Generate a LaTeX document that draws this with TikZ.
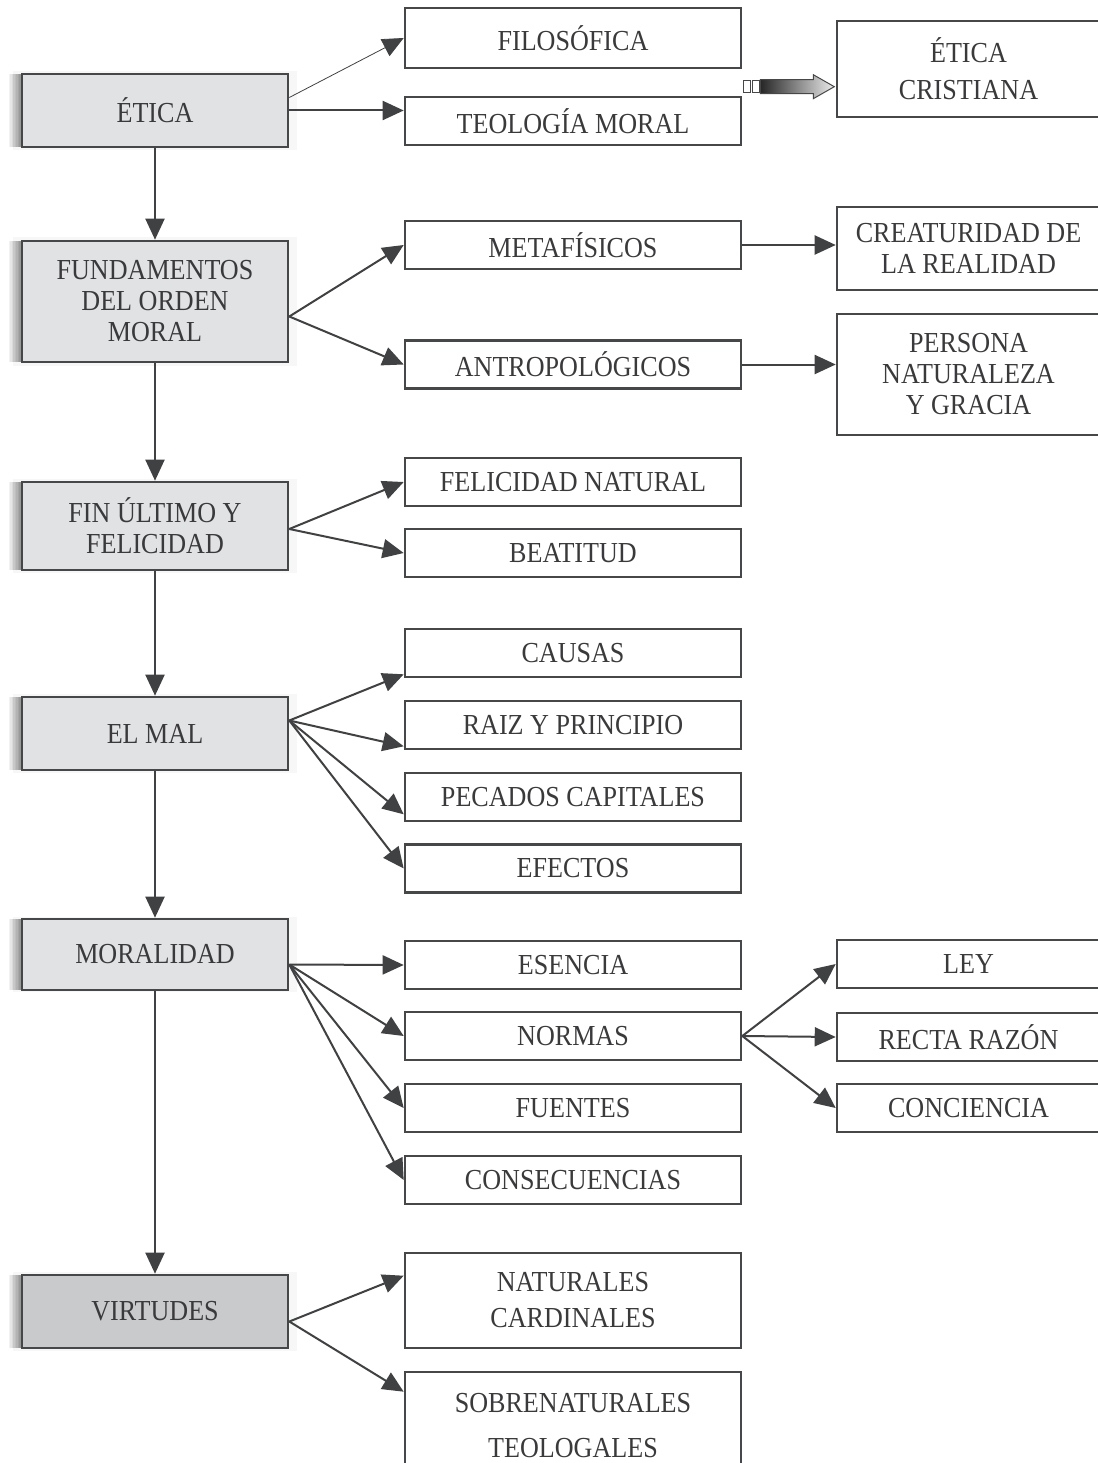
\documentclass[tikz,border=0pt]{standalone}
\usepackage{fontspec}
\setmainfont{Liberation Serif}[FakeStretch=0.9]
\usetikzlibrary{arrows.meta,shadows,calc}

\definecolor{linegray}{RGB}{64,65,67}
\definecolor{boxline}{RGB}{70,71,73}
\definecolor{boxfill}{RGB}{225,226,228}
\definecolor{boxfilldark}{RGB}{201,202,204}
\definecolor{textgray}{RGB}{58,58,60}

\tikzset{
	basebox/.style={draw=boxline, line width=2.6pt, fill=white, text=textgray, align=center, inner sep=0pt, font=\fontsize{29}{31}\selectfont},
	shadowed/.style={
		general shadow={fill=black, opacity=.03, shadow scale=1.07},
		general shadow={fill=black, opacity=.05, shadow xshift=-13.5pt},
		general shadow={fill=black, opacity=.05, shadow xshift=-12pt},
		general shadow={fill=black, opacity=.05, shadow xshift=-10.5pt},
		general shadow={fill=black, opacity=.05, shadow xshift=-9pt},
		general shadow={fill=black, opacity=.05, shadow xshift=-7.5pt},
		general shadow={fill=black, opacity=.06, shadow xshift=-6pt},
		general shadow={fill=black, opacity=.07, shadow xshift=-4.5pt},
		general shadow={fill=black, opacity=.08, shadow xshift=-3pt},
		general shadow={fill=black, opacity=.10, shadow xshift=-1.5pt}},
	mainbox/.style={basebox, shadowed, fill=boxfill, minimum width=266pt},
	subbox/.style={basebox, minimum width=336pt},
	farbox/.style={basebox, minimum width=263pt},
	conn/.style={draw=linegray, line width=2pt, -{Triangle[length=21pt,width=19pt]}},
}

\begin{document}
\begin{tikzpicture}[x=1pt,y=-1pt]
			%%%%% START %%%%%
			\useasboundingbox (0,0) rectangle (1097,1463);
			
			% left column
			\node[mainbox, minimum height=73pt] (etica) at (155,110.5) {ÉTICA};
			\node[mainbox, minimum height=121pt] (fund) at (155,301.5) {FUNDAMENTOS\\DEL ORDEN\\MORAL};
			\node[mainbox, minimum height=88pt] (fin) at (155,526) {FIN ÚLTIMO Y\\FELICIDAD};
			\node[mainbox, minimum height=73pt] (mal) at (155,733.5) {EL MAL};
			\node[mainbox, minimum height=71pt] (moral) at (155,954.5) {MORALIDAD};
			\node[mainbox, fill=boxfilldark, minimum height=73pt] (virt) at (155,1311.5) {VIRTUDES};
			
			% middle column
			\node[subbox, minimum height=60pt] (filo) at (573,38) {FILOSÓFICA};
			\node[subbox, minimum height=48pt] (teol) at (573,121) {TEOLOGÍA MORAL};
			\node[subbox, minimum height=48pt] (meta) at (573,245) {METAFÍSICOS};
			\node[subbox, minimum height=48pt] (antro) at (573,364.5) {ANTROPOLÓGICOS};
			\node[subbox, minimum height=48pt] (felic) at (573,482) {FELICIDAD NATURAL};
			\node[subbox, minimum height=48pt] (beat) at (573,553) {BEATITUD};
			\node[subbox, minimum height=48pt] (causas) at (573,653) {CAUSAS};
			\node[subbox, minimum height=48pt] (raiz) at (573,725) {RAIZ Y PRINCIPIO};
			\node[subbox, minimum height=48pt] (pecados) at (573,797) {PECADOS CAPITALES};
			\node[subbox, minimum height=48pt] (efectos) at (573,868.5) {EFECTOS};
			\node[subbox, minimum height=48pt] (esencia) at (573,965) {ESENCIA};
			\node[subbox, minimum height=48pt] (normas) at (573,1036) {NORMAS};
			\node[subbox, minimum height=48pt] (fuentes) at (573,1108) {FUENTES};
			\node[subbox, minimum height=48pt] (consec) at (573,1180) {CONSECUENCIAS};
			\node[subbox, minimum height=95pt] (natur) at (573,1300.5) {NATURALES\\[5pt]CARDINALES};
			\node[subbox, minimum height=108pt] (sobre) at (573,1426) {SOBRENATURALES\\[14pt]TEOLOGALES};
			
			% right column
			\node[farbox, minimum height=96pt] (ecris) at (968.5,69) {ÉTICA\\[6pt]CRISTIANA};
			\node[farbox, minimum height=83pt] (creat) at (968.5,248.5) {CREATURIDAD DE\\LA REALIDAD};
			\node[farbox, minimum height=121pt] (persona) at (968.5,374.5) {PERSONA\\NATURALEZA\\Y GRACIA};
			\node[farbox, minimum height=48pt] (ley) at (968.5,964) {LEY};
			\node[farbox, minimum height=48pt] (recta) at (968.5,1037) {RECTA RAZÓN};
			\node[farbox, minimum height=48pt] (conc) at (968.5,1108) {CONCIENCIA};
			
			% main chain
			\draw[conn] (etica.south) -- (fund.north);
			\draw[conn] (fund.south) -- (fin.north);
			\draw[conn] (fin.south) -- (mal.north);
			\draw[conn] (mal.south) -- (moral.north);
			\draw[conn] (moral.south) -- (virt.north);
			
			% etica
			\draw[conn, line width=0.8pt] ([yshift=13pt]etica.east) -- (filo.west);
			\draw[conn] (etica.east) -- (etica.east -| teol.west);
			
			\coordinate (garrow) at ($(teol.north east)+(1,-9)$);
			\draw[boxline, line width=1pt] ($(garrow)+(0,-6)$) rectangle ++(7,12);
			\draw[boxline, line width=1pt] ($(garrow)+(9,-6)$) rectangle ++(7,12);
			\shadedraw[left color=black!85, right color=black!8, draw=boxline, line width=1pt] ($(garrow)+(17,-7)$) -- ++(53,0) -- ++(0,-5) -- ++(21,12) -- ++(-21,12) -- ++(0,-5) -- ++(-53,0) -- cycle;
			
			% fundamentos
			\coordinate (fundfork) at ([yshift=-15pt]fund.east);
			\foreach \t in {meta,antro}
				\draw[conn] (fundfork) -- (\t.west);
			\draw[conn] (meta.east) -- (meta.east -| creat.west);
			\draw[conn] (antro.east) -- (antro.east -| persona.west);
			
			% fin ultimo
			\coordinate (finfork) at ([yshift=-3pt]fin.east);
			\foreach \t in {felic,beat}
				\draw[conn] (finfork) -- (\t.west);
			
			% el mal
			\coordinate (malfork) at ([yshift=13pt]mal.east);
			\draw[conn] (malfork) -- ([yshift=4pt]causas.south west);
			\draw[conn] (malfork) -- ([yshift=4pt]raiz.south west);
			\draw[conn] (malfork) -- ([yshift=8pt]pecados.south west);
			\draw[conn] (malfork) -- (efectos.west);
			
			% moralidad
			\coordinate (moralfork) at ([yshift=-10pt]moral.east);
			\foreach \t in {esencia,normas,fuentes,consec}
				\draw[conn] (moralfork) -- (\t.west);
			\foreach \t in {ley,recta,conc}
				\draw[conn] (normas.east) -- (\t.west);
			
			% virtudes
			\coordinate (virtfork) at ([yshift=-10pt]virt.east);
			\draw[conn] (virtfork) -- ([yshift=-24pt]natur.north west);
			\draw[conn] (virtfork) -- ([yshift=-21pt]sobre.north west);
			
			%%%%% END %%%%%
\end{tikzpicture}
\end{document}
